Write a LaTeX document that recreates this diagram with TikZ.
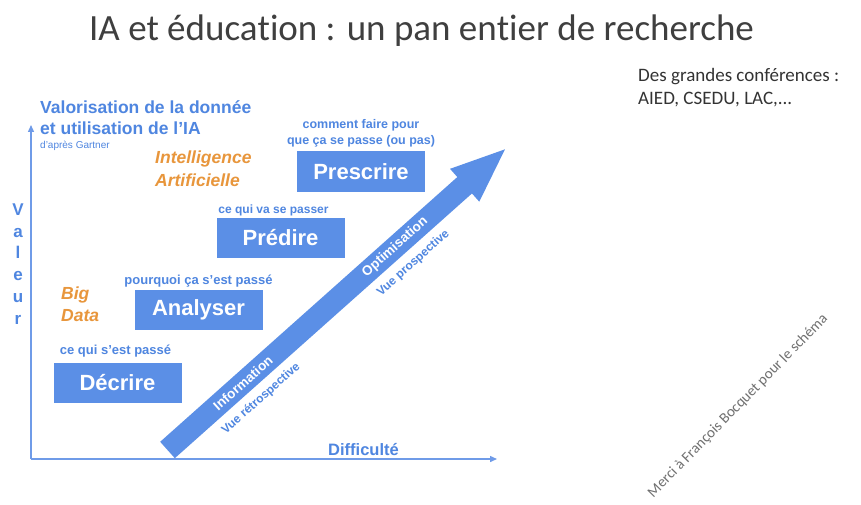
\documentclass[tikz,border=0pt]{standalone}
\usepackage{fontspec}
\setmainfont{Liberation Sans}
\newfontfamily\calfont[Ligatures={NoCommon}]{Carlito}
\usetikzlibrary{arrows.meta}
\definecolor{boxblue}{HTML}{5B8FE6}
\definecolor{txtblue}{HTML}{4F86E0}
\definecolor{axisblue}{HTML}{6F9BE8}
\definecolor{orangetxt}{HTML}{E8963C}
\definecolor{titlegray}{HTML}{3F3F3F}
\definecolor{sidegray}{HTML}{333333}
\definecolor{mercigray}{HTML}{707070}
\newcommand{\fs}[1]{\fontsize{#1}{#1}\selectfont}
\newcommand{\nolig}{\kern0pt }
\tikzset{
  stagebox/.style={fill=boxblue, text=white, font=\fs{22}\bfseries, minimum width=128pt, minimum height=40pt, inner sep=0pt},
  bluelabel/.style={text=txtblue, font=\fs{13}\bfseries, inner sep=0pt},
  orangelabel/.style={text=orangetxt, font=\fs{17.5}\bfseries\itshape, inner sep=0pt, anchor=west},
  axisline/.style={draw=axisblue, line width=1.4pt},
  arrowtext/.style={text=white, font=\fs{13.5}\bfseries, inner sep=0pt, rotate=41.7},
  arrowsub/.style={text=txtblue, font=\fs{12}\bfseries, inner sep=0pt, rotate=41.7},
}
\begin{document}
\begin{tikzpicture}[x=1pt,y=-1pt]
\useasboundingbox (0,0) rectangle (861,505);
\fill[white] (0,0) rectangle (861,505);

% title
\node[text=titlegray, font=\calfont\fs{37}, inner sep=0pt] (title) at (421.5,31) {IA et éduca\nolig tion : un pan en\nolig tier de recherche};

% side notes
\node[text=sidegray, font=\calfont\fs{19}, inner sep=0pt, anchor=west] (conf1) at (638,77) {Des grandes conférences :};
\node[text=sidegray, font=\calfont\fs{19}, inner sep=0pt, anchor=west] (conf2) at (638,100) {AIED, CSEDU, LAC,...};
\node[text=mercigray, font=\calfont\fs{15}, inner sep=0pt, rotate=45.6] (merci) at (738,406) {Merci à François Bocquet pour le schéma};

% axes
\coordinate (O) at (31,459);
\coordinate (Ytop) at (31,125);
\coordinate (Xend) at (497,459);
\draw[axisline, -{Triangle[length=7pt,width=6pt]}] (O) -- (Ytop);
\draw[axisline, -{Triangle[length=7pt,width=6pt]}] (O) -- (Xend);

% axis labels
\node[text=txtblue, font=\fontsize{17}{21.8}\selectfont\bfseries, inner sep=0pt, align=center] (valeur) at (18,264) {V\\a\\l\\e\\u\\r};
\node[text=txtblue, font=\fs{16.5}\bfseries, inner sep=0pt] (diff) at (363.5,450) {Difficulté};

% chart title
\node[text=txtblue, font=\fs{17.5}\bfseries, inner sep=0pt, anchor=west] (val1) at (40,107) {Valorisation de la donnée};
\node[text=txtblue, font=\fs{17.5}\bfseries, inner sep=0pt, anchor=west] (val2) at (40,128) {et utilisation de l'IA};
\node[text=txtblue, font=\fs{10}, inner sep=0pt, anchor=west] (gartner) at (40,146) {d'après Gartner};

% orange labels
\node[orangelabel] (ia1) at (155,159) {Intelligence};
\node[orangelabel] (ia2) at (155,180) {Artificielle};
\node[orangelabel] (bd1) at (61,295) {Big};
\node[orangelabel] (bd2) at (61,316) {Data};

% stages
\node[stagebox] (decrire) at (117.5,383) {Décrire};
\node[stagebox] (analyser) at (198.5,309.5) {Analyser};
\node[stagebox] (predire) at (280.5,238) {Prédire};
\node[stagebox] (prescrire) at (361,171.5) {Prescrire};

\node[bluelabel] (l1) at (115.5,351) {ce qui s'est passé};
\node[bluelabel] (l2) at (198.5,281) {pourquoi ça s'est passé};
\node[bluelabel, font=\fs{12}\bfseries] (l3) at (273.5,210) {ce qui va se passer};
\node[bluelabel, font=\fs{12.5}\bfseries] (l4a) at (361,125) {comment faire pour};
\node[bluelabel, font=\fs{12.5}\bfseries] (l4b) at (361,141) {que ça se passe (ou pas)};

% big arrow
\begin{scope}[shift={(167.5,450)}, rotate=41.7]
  \fill[boxblue] (0,-11) -- (398,-11) -- (398,-22) -- (452,0) -- (398,22) -- (398,11) -- (0,11) -- cycle;
  \node[arrowtext] (info) at (101,0) {Information};
  \node[arrowtext] (optim) at (305,0) {Optimisation};
  \node[arrowsub] (retro) at (104,24) {Vue rétrospective};
  \node[arrowsub] (prosp) at (308,24) {Vue prospective};
\end{scope}
\end{tikzpicture}
\end{document}
